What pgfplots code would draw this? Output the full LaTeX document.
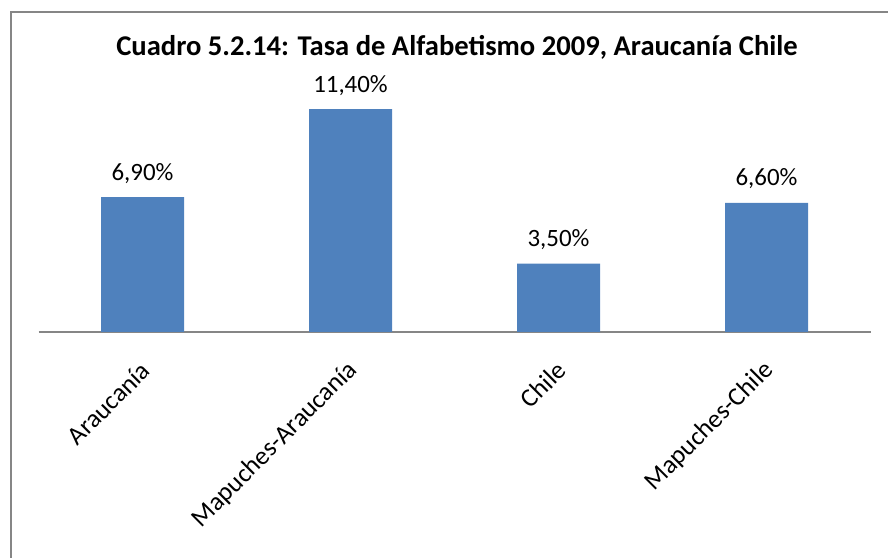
\documentclass[border=0pt]{standalone}
\usepackage{pgfplots}
\pgfplotsset{compat=1.18}
\usepackage{fontspec}
\setmainfont{Carlito}
\definecolor{barblue}{HTML}{4F81BD}
\definecolor{framegray}{HTML}{868686}
\begin{document}
\begin{tikzpicture}[x=1bp,y=1bp]
\useasboundingbox (0,0) rectangle (888,558);
\draw[framegray, line width=2bp] (11,0) -- (11,546.3) -- (888,546.3);
\node[font=\fontsize{28.7}{32}\selectfont\bfseries] at (457,511) {Cuadro 5.2.14: Tasa de Alfabetismo 2009, Araucanía Chile};
\begin{axis}[
  at={(38.5bp,226bp)}, anchor=south west,
  scale only axis, width=832bp, height=234.6bp,
  xmin=-0.5, xmax=3.5, ymin=0, ymax=12,
  axis x line*=bottom, axis y line=none,
  x axis line style={framegray, line width=1.5bp, -},
  xtick=data, xticklabels={Araucanía,Mapuches-Araucanía,Chile,Mapuches-Chile},
  major tick length=0pt,
  xticklabel style={rotate=45, anchor=east, font=\fontsize{26}{30}\selectfont, inner sep=0pt, xshift=-22bp, yshift=-26.4bp},
  ybar, bar width=83bp,
  nodes near coords={\pgfmathprintnumber[fixed,fixed zerofill,precision=2,use comma,assume math mode=true]{\pgfplotspointmeta}\%},
  nodes near coords style={anchor=base, inner sep=0pt, yshift=17bp, font=\fontsize{25}{29}\selectfont, black},
  clip=false,
]
\addplot[fill=barblue, draw=none] coordinates {(0,6.9) (1,11.4) (2,3.5) (3,6.6)};
\end{axis}
\end{tikzpicture}
\end{document}
